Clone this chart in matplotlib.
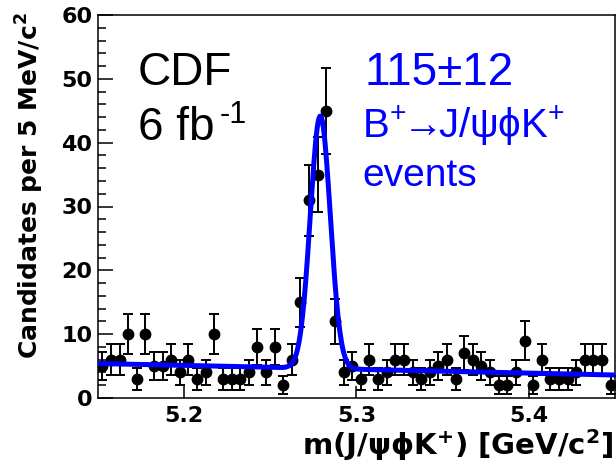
import numpy as np
import matplotlib
matplotlib.use('Agg')
import matplotlib.pyplot as plt

plt.rcParams['font.family'] = ['Liberation Sans', 'DejaVu Sans']
plt.rcParams['mathtext.fontset'] = 'custom'
plt.rcParams['mathtext.rm'] = 'Liberation Sans'
plt.rcParams['mathtext.bf'] = 'DejaVu Sans:bold'
plt.rcParams['mathtext.it'] = 'Liberation Sans:italic'

# histogram: 60 bins of 5 MeV from 5.15 to 5.45 GeV
bin_lo = 5.15
bin_width = 0.005
counts = [5, 6, 6, 10, 3, 10, 5, 5, 6, 4,
          6, 3, 4, 10, 3, 3, 3, 4, 8, 4,
          8, 2, 6, 15, 31, 35, 45, 12, 4, 5,
          3, 6, 3, 4, 6, 6, 4, 3, 4, 5,
          6, 3, 7, 6, 5, 4, 2, 2, 4, 9,
          2, 6, 3, 3, 3, 4, 6, 6, 6, 2]

# fit: gaussian signal + linear background (per bin)
fit_yield = 115
fit_mass = 5.2790
fit_sigma = 0.0058
bkg_left = 5.4   # at 5.15
bkg_right = 3.6  # at 5.45

centers = bin_lo + bin_width * (np.arange(len(counts)) + 0.5)
counts = np.array(counts, dtype=float)

xf = np.linspace(5.15, 5.45, 600)
bkg = bkg_left + (bkg_right - bkg_left) * (xf - 5.15) / 0.30
sig = fit_yield * bin_width / (np.sqrt(2 * np.pi) * fit_sigma) * np.exp(-0.5 * ((xf - fit_mass) / fit_sigma) ** 2)
yf = bkg + sig

W, H = 616, 466
fig = plt.figure(figsize=(W / 100, H / 100), dpi=100)
ax = fig.add_axes([98 / W, 1 - 398 / H, (615 - 98) / W, (398 - 15) / H])

ax.errorbar(centers, counts, yerr=np.sqrt(counts), fmt='o', color='black',
            ms=7.5, elinewidth=1.4, capsize=3.5, capthick=1.4, zorder=2)
ax.plot(xf, yf, color='#0000ff', lw=3.6, zorder=3)

ax.set_xlim(5.15, 5.45)
ax.set_ylim(0, 60)
ax.set_xticks([5.2, 5.3, 5.4])
ax.set_xticklabels(['5.2', '5.3', '5.4'])
ax.set_yticks(range(0, 61, 10))
ax.set_yticks(range(0, 61, 2), minor=True)
ax.tick_params(axis='y', which='major', direction='in', length=11, width=1.1, labelsize=16, pad=4)
ax.tick_params(axis='y', which='minor', direction='in', length=6, width=1.1)
ax.tick_params(axis='x', which='major', direction='in', length=9, width=1.1, labelsize=16, pad=6)
for lab in ax.get_xticklabels() + ax.get_yticklabels():
    lab.set_fontweight('bold')
    lab.set_family('DejaVu Sans')
for s in ax.spines.values():
    s.set_linewidth(1.1)

fig.text(30 / W, 1 - 12 / H, r'Candidates per 5 MeV/c$\mathbf{^{2}}$', rotation=90,
         ha='center', va='top', fontsize=18, fontweight='bold', family='DejaVu Sans')
fig.text(613 / W, 1 - 455 / H, r'm(J/ψϕK$\mathbf{^{+}}$) [GeV/c$\mathbf{^{2}}$]',
         ha='right', va='baseline', fontsize=21, fontweight='bold', family='DejaVu Sans')

fig.text(138 / W, 1 - 85 / H, 'CDF', fontsize=33, va='baseline')
fig.text(138 / W, 1 - 140 / H, '6 fb', fontsize=33, va='baseline')
fig.text(220 / W, 1 - 123 / H, '-1', fontsize=22, va='baseline')

blue = '#0000ff'
fig.text(364 / W, 1 - 85 / H, '115±12', fontsize=33, va='baseline', color=blue)
fig.text(362 / W, 1 - 138 / H, r'B$^{+}$$\!\!\rightarrow\!\!$J/ψϕK$^{+}$', fontsize=29, va='baseline', color=blue)
fig.text(362 / W, 1 - 186 / H, 'events', fontsize=28, va='baseline', color=blue)

fig.savefig('out.png', dpi=100)
